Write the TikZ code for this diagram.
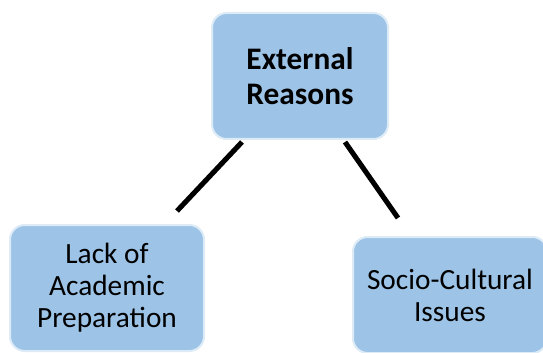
\documentclass[tikz,border=0pt]{standalone}
\usepackage{fontspec}
\setmainfont{Carlito}
\usepackage{tikz}

\definecolor{boxblue}{HTML}{9DC3E6}
\definecolor{boxrim}{HTML}{DDEBF7}

\begin{document}
\begin{tikzpicture}[x=0.75pt, y=-0.75pt,
        reason/.style={draw=boxrim, line width=1.5pt, fill=boxblue, rounded corners=11pt, align=center, inner sep=0pt, font=\fontsize{22}{24}\selectfont},
        link/.style={line width=3.8pt}]
        \useasboundingbox (0,0) rectangle (543,353);
        \node[reason, minimum width=132pt, minimum height=94.5pt, font=\fontsize{23.5}{26}\selectfont\bfseries] (ext) at (300,76) {External\\Reasons};
        \node[reason, minimum width=145.5pt, minimum height=94.5pt] (prep) at (107,288) {Lack of\\Academic\\Preparation};
        \node[reason, minimum width=145.5pt, minimum height=87pt] (socio) at (450,295) {Socio-Cultural\\Issues};
        \coordinate (ext-l) at (242,142);
        \coordinate (prep-t) at (177,211);
        \coordinate (ext-r) at (345,142);
        \coordinate (socio-t) at (398,218);
        \draw[link] (ext-l) -- (prep-t);
        \draw[link] (ext-r) -- (socio-t);
\end{tikzpicture}
\end{document}
